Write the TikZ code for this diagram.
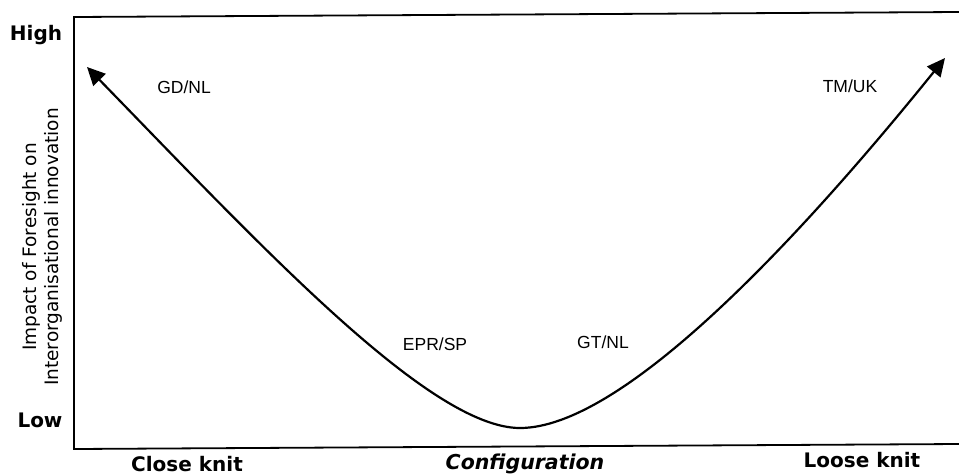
\documentclass[tikz,border=0pt]{standalone}
\usepackage{fontspec}
\setmainfont{DejaVu Sans}
\newfontfamily\arialfont{Liberation Sans}
\usetikzlibrary{arrows.meta}
\begin{document}
\begin{tikzpicture}[x=1pt,y=-1pt,
  axisline/.style={line width=1.8pt,black},
  curveline/.style={line width=2.2pt,black,{Triangle[length=18pt,width=17pt]}-{Triangle[length=18pt,width=17pt]}},
  axislab/.style={font=\fontsize{20}{22}\selectfont\bfseries,anchor=base,inner sep=0pt},
  caselab/.style={font=\arialfont\fontsize{17.5}{20}\selectfont,anchor=base,inner sep=0pt},
  ylab/.style={font=\fontsize{18.5}{22}\selectfont,align=center,rotate=90,inner sep=0pt}]
\useasboundingbox (0,0) rectangle (959,475);
% frame
\coordinate (tr) at (959,12);
\coordinate (tl) at (74,17);
\coordinate (bl) at (74,449);
\coordinate (br) at (959,444);
\draw[axisline] (tr) -- (tl) -- (bl) -- (br);
% curve
\coordinate (lefttip) at (87,67);
\coordinate (minpt) at (520,428);
\coordinate (righttip) at (945,58);
\coordinate (l2) at (262,247);
\coordinate (l1) at (430,428);
\coordinate (r1) at (620,428);
\coordinate (r2) at (790,250);
\draw[curveline] (lefttip) .. controls (l2) and (l1) .. (minpt)
  .. controls (r1) and (r2) .. (righttip);
% axis labels
\node[axislab] (high) at (36,40) {High};
\node[axislab] (low) at (40,427) {Low};
\node[axislab] (close) at (187,471) {Close knit};
\node[axislab,font=\fontsize{20.5}{22}\selectfont\bfseries\itshape] (config) at (525,469) {Configuration};
\node[axislab] (loose) at (862,467) {Loose knit};
\node[ylab] (ylabel) at (42,247) {Impact of Foresight on\\Interorganisational innovation};
% case labels
\node[caselab] (gdnl) at (184,93) {GD/NL};
\node[caselab] (eprsp) at (435,350) {EPR/SP};
\node[caselab] (gtnl) at (603,348) {GT/NL};
\node[caselab] (tmuk) at (850,92) {TM/UK};
\end{tikzpicture}
\end{document}
